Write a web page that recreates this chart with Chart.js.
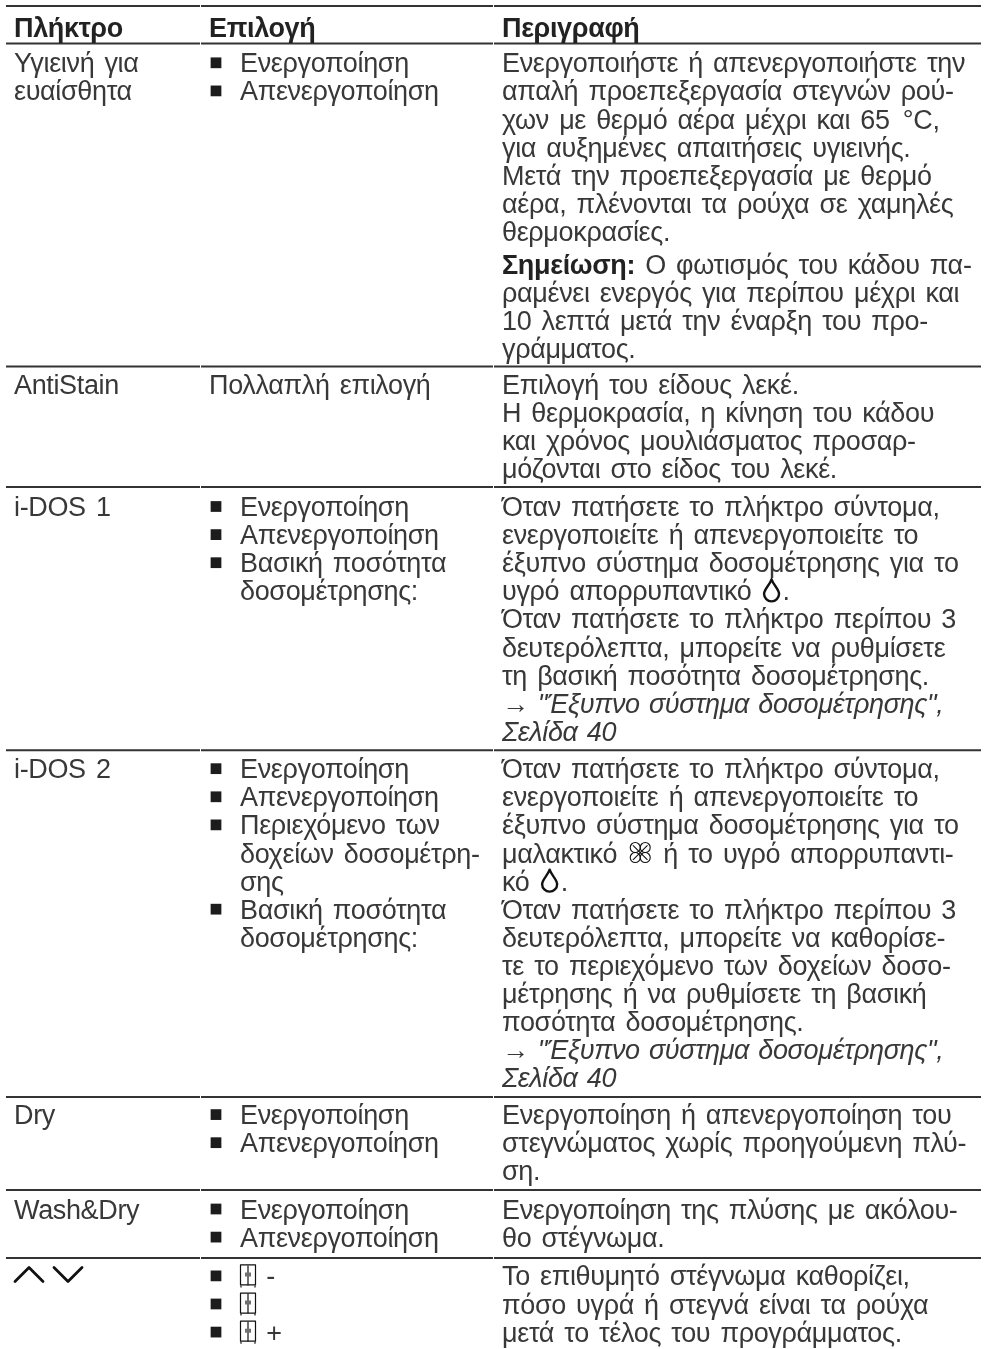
<!DOCTYPE html>
<html lang="el">
<head>
<meta charset="utf-8">
<title>Πλήκτρο Επιλογή Περιγραφή</title>
<script src="https://cdn.jsdelivr.net/npm/chart.js@4/dist/chart.umd.min.js"></script>
<style>
    html, body { margin: 0; padding: 0; background: #fff; }
    canvas { display: block; }
</style>
</head>
<body>
<canvas id="tableChart" width="985" height="1349"></canvas>
<script>
// Table content, one list per column, one entry per row
// "- " starts a bullet item, **..** is bold, //..// is italic, {x} is an inline icon
const headers = ['Πλήκτρο', 'Επιλογή', 'Περιγραφή'];

const keyColumn = [
    ['Υγιεινή για', 'ευαίσθητα'],
    ['AntiStain'],
    ['i-DOS 1'],
    ['i-DOS 2'],
    ['Dry'],
    ['Wash&Dry'],
    ['{chevrons}']
];

const optionColumn = [
    ['- Ενεργοποίηση', '- Απενεργοποίηση'],
    ['Πολλαπλή επιλογή'],
    ['- Ενεργοποίηση', '- Απενεργοποίηση', '- Βασική ποσότητα', 'δοσομέτρησης:'],
    ['- Ενεργοποίηση', '- Απενεργοποίηση', '- Περιεχόμενο των', 'δοχείων δοσομέτρη-', 'σης', '- Βασική ποσότητα', 'δοσομέτρησης:'],
    ['- Ενεργοποίηση', '- Απενεργοποίηση'],
    ['- Ενεργοποίηση', '- Απενεργοποίηση'],
    ['- {cabinet} -', '- {cabinet}', '- {cabinet} +']
];

const descriptionColumn = [
    ['Ενεργοποιήστε ή απενεργοποιήστε την', 'απαλή προεπεξεργασία στεγνών ρού-', 'χων με θερμό αέρα μέχρι και 65\u2002°C,',
        'για αυξημένες απαιτήσεις υγιεινής.', 'Μετά την προεπεξεργασία με θερμό', 'αέρα, πλένονται τα ρούχα σε χαμηλές',
        'θερμοκρασίες.', '**Σημείωση:** Ο φωτισμός του κάδου πα-', 'ραμένει ενεργός για περίπου μέχρι και',
        '10 λεπτά μετά την έναρξη του προ-', 'γράμματος.'],
    ['Επιλογή του είδους λεκέ.', 'Η θερμοκρασία, η κίνηση του κάδου', 'και χρόνος μουλιάσματος προσαρ-', 'μόζονται στο είδος του λεκέ.'],
    ['Όταν πατήσετε το πλήκτρο σύντομα,', 'ενεργοποιείτε ή απενεργοποιείτε το', 'έξυπνο σύστημα δοσομέτρησης για το',
        'υγρό απορρυπαντικό {drop}.', 'Όταν πατήσετε το πλήκτρο περίπου 3', 'δευτερόλεπτα, μπορείτε να ρυθμίσετε',
        'τη βασική ποσότητα δοσομέτρησης.', '//→ "Έξυπνο σύστημα δοσομέτρησης",//', '//Σελίδα 40//'],
    ['Όταν πατήσετε το πλήκτρο σύντομα,', 'ενεργοποιείτε ή απενεργοποιείτε το', 'έξυπνο σύστημα δοσομέτρησης για το',
        'μαλακτικό {flower} ή το υγρό απορρυπαντι-', 'κό {drop}.', 'Όταν πατήσετε το πλήκτρο περίπου 3',
        'δευτερόλεπτα, μπορείτε να καθορίσε-', 'τε το περιεχόμενο των δοχείων δοσο-', 'μέτρησης ή να ρυθμίσετε τη βασική',
        'ποσότητα δοσομέτρησης.', '//→ "Έξυπνο σύστημα δοσομέτρησης",//', '//Σελίδα 40//'],
    ['Ενεργοποίηση ή απενεργοποίηση του', 'στεγνώματος χωρίς προηγούμενη πλύ-', 'ση.'],
    ['Ενεργοποίηση της πλύσης με ακόλου-', 'θο στέγνωμα.'],
    ['Το επιθυμητό στέγνωμα καθορίζει,', 'πόσο υγρά ή στεγνά είναι τα ρούχα', 'μετά το τέλος του προγράμματος.']
];

// Layout. The y axis counts text lines, the x axis counts page pixels
const PAGE_W = 985, PAGE_H = 1349, LINE_PX = 28.1;
const FONT = '"Liberation Sans", Arial, sans-serif';
const FONT_PX = 27;
const INK = '#383838';
const RULE_INK = '#333333';
const colEdges = [6, 200, 493, 981];
const colText = [14, 209, 502];
const BULLET_TEXT_X = 240;
const TOP_LINES = 0.21;
const HEADER_LINES = 1.335;
const rowSlack = [0.50, 0.29, 0.36, 0.34, 0.31, 0.42];
const rowLead = [1.03, 0.98, 1.03, 1.0, 0.97, 1.02, 0.98];
const NOTE_GAP = 0.17;

function rowLineCount(i) {
    return Math.max(keyColumn[i].length, optionColumn[i].length, descriptionColumn[i].length);
}

// Row boundaries in line units
const ruleLines = [TOP_LINES, TOP_LINES + HEADER_LINES];
keyColumn.slice(0, -1).forEach((_, i) => {
    ruleLines.push(ruleLines[ruleLines.length - 1] + rowLineCount(i) + rowSlack[i]);
});

const ruleSegments = [];
ruleLines.forEach(y => {
    for (let c = 0; c < 3; c++) {
        ruleSegments.push({ x: colEdges[c] + (c ? 1 : 0), y }, { x: colEdges[c + 1], y }, { x: NaN, y: NaN });
    }
});

const bulletPoints = [];
optionColumn.forEach((lines, r) => {
    lines.forEach((line, l) => {
        if (line.startsWith('- ')) {
            bulletPoints.push({ x: colText[1] + 7, y: ruleLines[r + 1] + rowLead[r] + l - 0.34 });
        }
    });
});

const iconWidths = { drop: 21, flower: 26, cabinet: 16, chevrons: 70 };

function drawIcon(ctx, name, x, base) {
    ctx.save();
    ctx.strokeStyle = '#111';
    ctx.fillStyle = '#111';
    ctx.lineWidth = 2.4;
    ctx.lineCap = 'round';
    ctx.lineJoin = 'round';
    if (name === 'drop') {
        ctx.beginPath();
        ctx.moveTo(x + 10, base - 21);
        ctx.bezierCurveTo(x + 8, base - 15, x + 2.5, base - 11, x + 2.5, base - 6.5);
        ctx.arc(x + 10, base - 6.5, 7.5, Math.PI, 0, true);
        ctx.bezierCurveTo(x + 17.5, base - 11, x + 12, base - 15, x + 10, base - 21);
        ctx.stroke();
    } else if (name === 'flower') {
        ctx.lineWidth = 1.1;
        const cx = x + 13, cy = base - 10;
        [[-5, -5], [5, -5], [-5, 5], [5, 5]].forEach(([dx, dy]) => {
            ctx.beginPath();
            ctx.arc(cx + dx, cy + dy, 5, 0, Math.PI * 2);
            ctx.stroke();
        });
        ctx.beginPath();
        ctx.moveTo(cx - 7, cy - 7); ctx.lineTo(cx + 7, cy + 7);
        ctx.moveTo(cx + 7, cy - 7); ctx.lineTo(cx - 7, cy + 7);
        ctx.stroke();
    } else if (name === 'cabinet') {
        ctx.lineWidth = 1.2;
        ctx.lineCap = 'butt';
        ctx.strokeRect(x + 0.5, base - 20.5, 15, 20);
        ctx.beginPath();
        ctx.moveTo(x + 8, base - 20); ctx.lineTo(x + 8, base);
        ctx.moveTo(x + 6, base - 13); ctx.lineTo(x + 6, base - 9);
        ctx.moveTo(x + 10, base - 13); ctx.lineTo(x + 10, base - 9);
        ctx.moveTo(x + 1, base); ctx.lineTo(x + 1, base + 2);
        ctx.moveTo(x + 15, base); ctx.lineTo(x + 15, base + 2);
        ctx.stroke();
    } else if (name === 'chevrons') {
        ctx.lineWidth = 2.8;
        ctx.beginPath();
        ctx.moveTo(x + 1, base - 4); ctx.lineTo(x + 15, base - 18); ctx.lineTo(x + 29, base - 4);
        ctx.moveTo(x + 40, base - 18); ctx.lineTo(x + 54, base - 4); ctx.lineTo(x + 68, base - 18);
        ctx.stroke();
    }
    ctx.restore();
}

// Writes one text line, switching font on the inline marks
function drawLine(ctx, text, x, base, bold) {
    const parts = text.split(/(\*\*.+?\*\*|\/\/.+?\/\/|\{\w+\})/).filter(Boolean);
    let cursor = x;
    parts.forEach(part => {
        if (part.startsWith('{')) {
            const name = part.slice(1, -1);
            drawIcon(ctx, name, cursor, base);
            cursor += iconWidths[name];
            return;
        }
        let style = bold ? 'bold ' : '';
        let str = part;
        if (part.startsWith('**')) { style = 'bold '; str = part.slice(2, -2); }
        if (part.startsWith('//')) { style = 'italic '; str = part.slice(2, -2); }
        ctx.font = style + FONT_PX + 'px ' + FONT;
        ctx.letterSpacing = '-0.35px';
        ctx.wordSpacing = style === 'italic ' ? '2px' : '3px';
        ctx.fillStyle = style === 'bold ' ? '#222' : INK;
        ctx.fillText(str, cursor, base);
        cursor += ctx.measureText(str).width;
    });
}

const tableTextPlugin = {
    id: 'tableText',
    afterDatasetsDraw(chart) {
        const { ctx, scales } = chart;
        ctx.save();
        ctx.textBaseline = 'alphabetic';
        ctx.textAlign = 'left';

        const headY = scales.y.getPixelForValue(ruleLines[0] + 1.09);
        headers.forEach((h, c) => {
            drawLine(ctx, h, scales.x.getPixelForValue(colText[c]), headY, true);
        });

        [keyColumn, optionColumn, descriptionColumn].forEach((column, c) => {
            column.forEach((lines, r) => {
                let offset = ruleLines[r + 1] + rowLead[r];
                lines.forEach(line => {
                    if (line.startsWith('**')) offset += NOTE_GAP;
                    const base = scales.y.getPixelForValue(offset);
                    let x = colText[c];
                    let str = line;
                    if (c === 1) {
                        // bullet items and their continuation lines hang at the same indent
                        const hasBullets = lines[0].startsWith('- ');
                        if (hasBullets) x = BULLET_TEXT_X;
                        if (line.startsWith('- ')) str = line.slice(2);
                    }
                    drawLine(ctx, str, scales.x.getPixelForValue(x), base, false);
                    offset += 1;
                });
            });
        });
        ctx.restore();
    }
};

new Chart(document.getElementById('tableChart'), {
    type: 'scatter',
    data: {
        datasets: [
            {
                label: 'Rules',
                data: ruleSegments,
                showLine: true,
                spanGaps: false,
                borderColor: RULE_INK,
                borderWidth: 2,
                pointRadius: 0
            },
            {
                label: 'Bullets',
                data: bulletPoints,
                showLine: false,
                pointStyle: 'rect',
                pointRadius: 7.6,
                pointBackgroundColor: '#1c1c1c',
                pointBorderWidth: 0
            }
        ]
    },
    options: {
        responsive: false,
        animation: false,
        layout: { padding: 0, autoPadding: false },
        plugins: { legend: { display: false }, tooltip: { enabled: false } },
        scales: {
            x: { type: 'linear', display: false, min: 0, max: PAGE_W },
            y: { type: 'linear', display: false, reverse: true, min: 0, max: PAGE_H / LINE_PX }
        }
    },
    plugins: [tableTextPlugin]
});
</script>
</body>
</html>
